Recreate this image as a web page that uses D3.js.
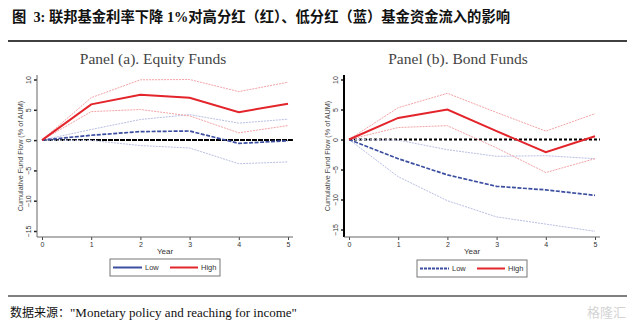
<!DOCTYPE html>
<html>
<head>
<meta charset="utf-8">
<script src="https://cdn.jsdelivr.net/npm/d3@7"></script>
<style>
  body { margin: 0; background: #fff; }
  svg { display: block; }
</style>
</head>
<body>
<div id="container"></div>
<script>
// data (% of AUM, cumulative)
let years = [0, 1, 2, 3, 4, 5];
let yTicks = [-15, -10, -5, 0, 5, 10];

let eqHigh    = [0, 5.9, 7.5, 7.0, 4.6, 6.0];
let eqHighUp  = [0, 7.0, 9.95, 10.0, 8.0, 9.55];
let eqHighLo  = [0, 4.7, 5.05, 4.0, 1.2, 2.4];
let eqLow     = [0, 0.8, 1.4, 1.5, -0.55, -0.1];
let eqLowUp   = [0, 1.75, 3.4, 4.2, 2.8, 3.45];
let eqLowLo   = [0, -0.05, -0.9, -1.3, -3.9, -3.6];

let bdHigh    = [0, 3.6, 5.0, 1.4, -2.1, 0.55];
let bdHighUp  = [0, 5.3, 7.7, 4.5, 1.4, 4.3];
let bdHighLo  = [0, 2.0, 2.3, -1.4, -5.5, -3.2];
let bdLow     = [0, -3.2, -5.9, -7.8, -8.4, -9.3];
let bdLowUp   = [0, -0.1, -1.7, -2.8, -2.7, -3.2];
let bdLowLo   = [0, -6.2, -10.2, -12.9, -14.1, -15.3];

let w = 635;
let h = 327;
let red = "#e3242b";
let redLight = "#f5a3a6";
let blue = "#3b4ea0";
let blueLight = "#b9bfe2";

let viz = d3.select("#container")
  .append("svg")
    .attr("width", w)
    .attr("height", h);

// header + footer
viz.append("text")
    .attr("x", 12)
    .attr("y", 22)
    .attr("font-family", "'Liberation Serif', 'Noto Sans CJK SC'")
    .attr("font-weight", 700)
    .attr("font-size", 14.3)
    .attr("fill", "#111")
    .style("white-space", "pre")
    .text("图  3: 联邦基金利率下降 1%对高分红（红）、低分红（蓝）基金资金流入的影响");

viz.append("line")
    .attr("x1", 8).attr("x2", 627).attr("y1", 41).attr("y2", 41)
    .attr("stroke", "#000").attr("stroke-width", 1.5);
viz.append("line")
    .attr("x1", 8).attr("x2", 627).attr("y1", 296).attr("y2", 296)
    .attr("stroke", "#000").attr("stroke-width", 1);

let src = viz.append("text")
    .attr("x", 10)
    .attr("y", 317)
    .attr("font-size", 13)
    .attr("fill", "#111");
src.append("tspan")
    .attr("font-family", "'Noto Sans CJK SC'")
    .attr("font-size", 12)
    .text("数据来源：");
src.append("tspan")
    .attr("font-family", "'Liberation Serif'")
    .text("\"Monetary policy and reaching for income\"");

viz.append("text")
    .attr("x", 626).attr("y", 317)
    .attr("text-anchor", "end")
    .attr("font-family", "'Noto Sans CJK SC'")
    .attr("font-size", 13)
    .attr("fill", "#d4d4d4")
    .text("格隆汇");

function drawPanel(cfg) {
  let g = viz.append("g").attr("class", "panel");

  let x = d3.scaleLinear().domain([0, 5]).range([cfg.x0, cfg.x0 + 246]);
  let y = d3.scaleLinear().domain([-15, 10]).range([cfg.yBot, 79.5]);
  let axX = cfg.x0 - 5;
  let axY = 237;

  // title
  g.append("text")
      .attr("x", cfg.titleX)
      .attr("y", 64)
      .attr("text-anchor", "middle")
      .attr("font-family", "'Liberation Serif', serif")
      .attr("font-size", 15.5)
      .attr("fill", "#444")
      .text(cfg.title);

  // y axis
  let yAxis = g.append("g")
      .attr("transform", "translate(" + axX + ",0)")
      .call(d3.axisLeft(y).tickValues(yTicks).tickFormat(d3.format("d")).tickSize(3).tickPadding(5));
  yAxis.select(".domain").remove();
  yAxis.selectAll(".tick line").attr("stroke", "#222").attr("stroke-width", 1.5);
  yAxis.selectAll(".tick text")
      .attr("transform", "rotate(-90)")
      .attr("x", 0)
      .attr("y", -6)
      .attr("dy", 0)
      .attr("text-anchor", "middle")
      .attr("font-family", "'Liberation Sans', Arial, sans-serif")
      .attr("font-size", 7)
      .attr("fill", "#333");
  g.append("line")
      .attr("x1", axX).attr("x2", axX)
      .attr("y1", 75).attr("y2", axY)
      .attr("stroke", cfg.axisColor).attr("stroke-width", cfg.axisWidth);

  g.append("text")
      .attr("transform", "translate(" + (axX - 14) + ",156) rotate(-90)")
      .attr("text-anchor", "middle")
      .attr("font-family", "'Liberation Sans', Arial, sans-serif")
      .attr("font-size", 7.2)
      .attr("fill", "#444")
      .text("Cumulative Fund Flow (% of AUM)");

  // x axis
  let xAxis = g.append("g")
      .attr("transform", "translate(0," + axY + ")")
      .call(d3.axisBottom(x).tickValues(years).tickFormat(d3.format("d")).tickSize(3).tickPadding(2));
  xAxis.select(".domain").remove();
  xAxis.selectAll(".tick line").attr("stroke", "#444");
  xAxis.selectAll(".tick text")
      .attr("font-family", "'Liberation Sans', Arial, sans-serif")
      .attr("font-size", 7)
      .attr("fill", "#333");
  g.append("line")
      .attr("x1", axX).attr("x2", x(5) + 5)
      .attr("y1", axY).attr("y2", axY)
      .attr("stroke", "#666").attr("stroke-width", 1);

  g.append("text")
      .attr("x", x(2.5))
      .attr("y", 254)
      .attr("text-anchor", "middle")
      .attr("font-family", "'Liberation Sans', Arial, sans-serif")
      .attr("font-size", 8)
      .attr("fill", "#333")
      .text("Year");

  let line = d3.line()
      .x(function(d, i) { return x(years[i]); })
      .y(function(d) { return y(d); });

  // zero reference line
  g.append("line")
      .attr("x1", x(0)).attr("x2", x(5.1))
      .attr("y1", y(0)).attr("y2", y(0))
      .attr("stroke", "#000")
      .attr("stroke-width", 2)
      .style("stroke-dasharray", cfg.zeroDash);

  let series = [
    { v: cfg.lowUp,  c: blueLight, wd: 1, dash: "2,1" },
    { v: cfg.lowLo,  c: blueLight, wd: 1, dash: "2,1" },
    { v: cfg.highUp, c: redLight,  wd: 1, dash: "2,1" },
    { v: cfg.highLo, c: redLight,  wd: 1, dash: "2,1" },
    { v: cfg.low,    c: blue,      wd: 1.7, dash: "4,1.5" },
    { v: cfg.high,   c: red,       wd: 2, dash: null }
  ];

  g.selectAll(".series").data(series).enter()
    .append("path")
      .attr("class", "series")
      .attr("d", function(d) { return line(d.v); })
      .attr("fill", "none")
      .attr("stroke", function(d) { return d.c; })
      .attr("stroke-width", function(d) { return d.wd; })
      .style("stroke-dasharray", function(d) { return d.dash; });

  // legend
  let lg = g.append("g").attr("transform", "translate(" + cfg.legX + "," + cfg.legY + ")");
  lg.append("rect")
      .attr("x", 0).attr("y", 0).attr("width", 110).attr("height", 17)
      .attr("fill", "#fff").attr("stroke", "#777").attr("stroke-width", 1);
  lg.append("line")
      .attr("x1", 3).attr("x2", 32).attr("y1", 8.5).attr("y2", 8.5)
      .attr("stroke", blue).attr("stroke-width", 2)
      .style("stroke-dasharray", cfg.legLowDash);
  lg.append("text")
      .attr("x", 35).attr("y", 11)
      .attr("font-family", "'Liberation Sans', Arial, sans-serif")
      .attr("font-size", 7.5).attr("fill", "#333")
      .text("Low");
  lg.append("line")
      .attr("x1", 60).attr("x2", 88).attr("y1", 8.5).attr("y2", 8.5)
      .attr("stroke", red).attr("stroke-width", 2);
  lg.append("text")
      .attr("x", 91).attr("y", 11)
      .attr("font-family", "'Liberation Sans', Arial, sans-serif")
      .attr("font-size", 7.5).attr("fill", "#333")
      .text("High");
}

drawPanel({
  title: "Panel (a). Equity Funds", titleX: 153,
  x0: 42, yBot: 231,
  axisColor: "#666", axisWidth: 1,
  zeroDash: "5,1",
  high: eqHigh, highUp: eqHighUp, highLo: eqHighLo,
  low: eqLow, lowUp: eqLowUp, lowLo: eqLowLo,
  legX: 110, legY: 259, legLowDash: null
});

drawPanel({
  title: "Panel (b). Bond Funds", titleX: 458,
  x0: 349, yBot: 229.5,
  axisColor: "#000", axisWidth: 2,
  zeroDash: "3,2",
  high: bdHigh, highUp: bdHighUp, highLo: bdHighLo,
  low: bdLow, lowUp: bdLowUp, lowLo: bdLowLo,
  legX: 417, legY: 260, legLowDash: "3,1"
});
</script>
</body>
</html>
